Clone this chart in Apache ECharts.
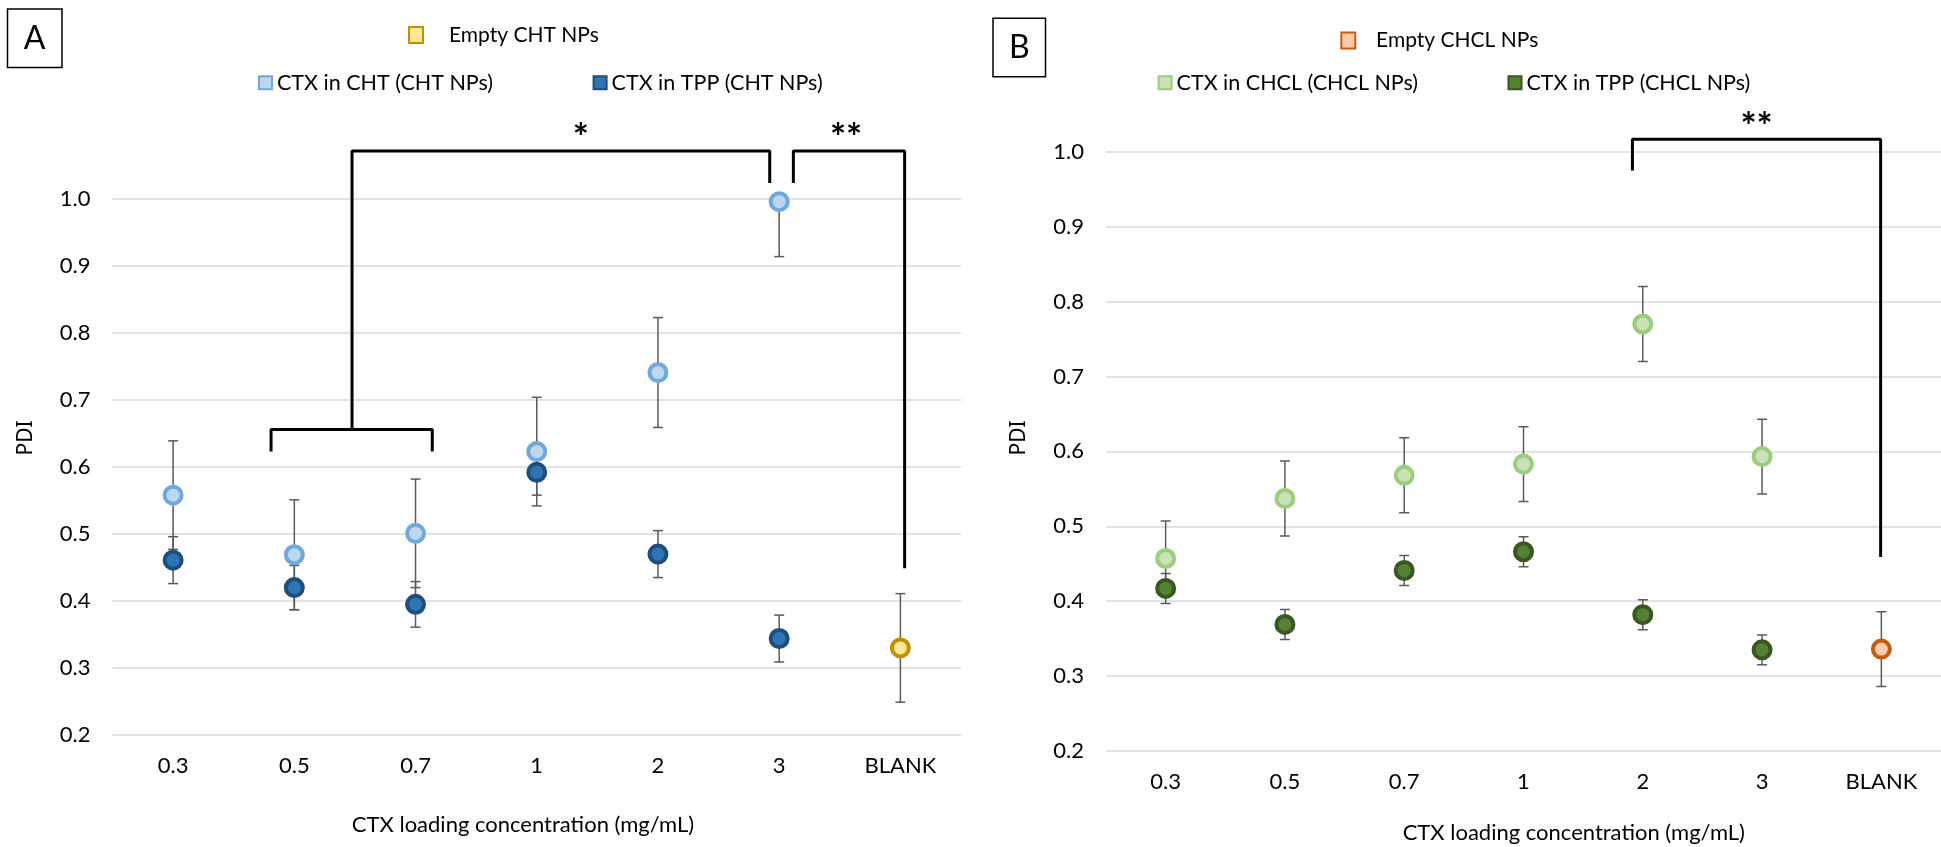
<!DOCTYPE html>
<html>
<head>
<meta charset="utf-8">
<title>PDI vs CTX loading concentration</title>
<script src="https://cdn.jsdelivr.net/npm/echarts@6/dist/echarts.min.js"></script>
<style>
  html, body { margin: 0; padding: 0; background: #ffffff; }
  #chart { width: 1941px; height: 847px; }
</style>
</head>
<body>
<div id="chart"></div>
<script>
// Loading concentrations (mg/mL) and blank formulation
const categories = ['0.3', '0.5', '0.7', '1', '2', '3', 'BLANK'];
const yTicks = { min: 0.2, max: 1.0, step: 0.1 };

// Panel A: CHT nanoparticles (mean PDI and SD)
const ctxInChtA = [0.558, 0.469, 0.501, 0.623, 0.741, 0.996];
const ctxInChtErrA = [0.081, 0.082, 0.081, 0.081, 0.082, 0.082];
const ctxInTppA = [0.461, 0.420, 0.395, 0.592, 0.470, 0.344];
const ctxInTppErrA = [0.035, 0.033, 0.034, 0.034, 0.035, 0.035];
const emptyChtA = 0.330;
const emptyChtErrA = 0.081;

// Panel B: CHCL nanoparticles (mean PDI and SD)
const ctxInChclB = [0.457, 0.537, 0.568, 0.583, 0.770, 0.593];
const ctxInChclErrB = [0.050, 0.050, 0.050, 0.050, 0.050, 0.050];
const ctxInTppB = [0.417, 0.369, 0.441, 0.466, 0.382, 0.335];
const ctxInTppErrB = [0.020, 0.020, 0.020, 0.020, 0.020, 0.020];
const emptyChclB = 0.336;
const emptyChclErrB = 0.050;

// Significance brackets, in (category index, PDI) units
const bracketsA = [
  [[0.808, 0.623], [0.808, 0.656], [2.138, 0.656], [2.138, 0.623]],
  [[1.476, 0.656], [1.476, 1.0716], [4.922, 1.0716], [4.922, 1.024]],
  [[5.117, 1.024], [5.117, 1.0716], [6.035, 1.0716], [6.035, 0.449]]
];
const starsA = [[3.364, 1.090, '*'], [5.552, 1.090, '**']];
const bracketsB = [
  [[3.913, 0.975], [3.913, 1.0166], [5.994, 1.0166], [5.994, 0.459]]
];
const starsB = [[4.954, 1.0326, '**']];

const FONT = 'Lato, "Open Sans", sans-serif';

// pad a per-concentration array out to all categories
function padSeries(values) {
  return categories.map((c, i) => (i < values.length ? values[i] : '-'));
}
function blankOnly(v) {
  return categories.map((c, i) => (i === categories.length - 1 ? v : '-'));
}
function errData(values, errs) {
  return values.map((v, i) => [i, v, errs[i]]);
}

function errorSeries(gridIdx, data) {
  return {
    type: 'custom',
    xAxisIndex: gridIdx * 2,
    yAxisIndex: gridIdx,
    z: 1,
    clip: true,
    silent: true,
    data: data,
    encode: { x: 0, y: 1 },
    renderItem: function (params, api) {
      const x = api.value(0), y = api.value(1), e = api.value(2);
      const hi = api.coord([x, y + e]);
      const lo = api.coord([x, y - e]);
      const cap = 5;
      const st = { stroke: '#5a5a5a', lineWidth: 1.5 };
      return {
        type: 'group',
        children: [
          { type: 'line', shape: { x1: hi[0], y1: hi[1], x2: lo[0], y2: lo[1] }, style: st },
          { type: 'line', shape: { x1: hi[0] - cap, y1: hi[1], x2: hi[0] + cap, y2: hi[1] }, style: st },
          { type: 'line', shape: { x1: lo[0] - cap, y1: lo[1], x2: lo[0] + cap, y2: lo[1] }, style: st }
        ]
      };
    }
  };
}

function pointSeries(gridIdx, name, data, fill, border) {
  return {
    type: 'scatter',
    name: name,
    xAxisIndex: gridIdx * 2,
    yAxisIndex: gridIdx,
    z: 2,
    symbol: 'circle',
    symbolSize: 17,
    data: data,
    itemStyle: { color: fill, borderColor: border, borderWidth: 4, opacity: 1 },
    emphasis: { disabled: true }
  };
}

function bracketSeries(gridIdx, path) {
  return {
    type: 'line',
    xAxisIndex: gridIdx * 2 + 1,
    yAxisIndex: gridIdx,
    z: 3,
    clip: false,
    silent: true,
    symbol: 'none',
    data: path,
    lineStyle: { color: '#000000', width: 3 },
    animation: false
  };
}

function starSeries(gridIdx, stars) {
  return {
    type: 'custom',
    xAxisIndex: gridIdx * 2 + 1,
    yAxisIndex: gridIdx,
    z: 3,
    clip: false,
    silent: true,
    data: stars,
    renderItem: function (params, api) {
      const p = api.coord([api.value(0), api.value(1)]);
      return {
        type: 'text',
        x: p[0],
        y: p[1],
        style: {
          text: stars[params.dataIndex][2],
          font: 'bold 38px ' + FONT,
          fill: '#000000',
          align: 'center',
          verticalAlign: 'middle'
        }
      };
    }
  };
}

function legendItem(name, left, centerY, opts) {
  return {
    data: [name],
    left: left,
    top: centerY - opts.lineHeight / 2,
    padding: 0,
    icon: 'rect',
    itemWidth: opts.iw,
    itemHeight: opts.ih,
    selectedMode: false,
    itemStyle: { borderWidth: 2 },
    formatter: n => opts.lead + n,
    textStyle: {
      fontFamily: FONT,
      fontSize: opts.size,
      color: '#000000',
      lineHeight: opts.lineHeight
    }
  };
}

const gridsPx = [
  { left: 112.5, top: 199, width: 848.5, height: 536 },
  { left: 1106, top: 151.7, width: 850, height: 599.3 }
];

function xAxes(gridIdx) {
  return [
    {
      type: 'category',
      gridIndex: gridIdx,
      data: categories,
      boundaryGap: true,
      axisLine: { show: false },
      axisTick: { show: false },
      splitLine: { show: false },
      axisLabel: { fontFamily: FONT, fontSize: 22, color: '#000000', margin: 20 }
    },
    {
      type: 'value',
      gridIndex: gridIdx,
      min: -0.5,
      max: categories.length - 0.5,
      show: false,
      splitLine: { show: false }
    }
  ];
}

function yAxis(gridIdx) {
  return {
    type: 'value',
    gridIndex: gridIdx,
    min: yTicks.min,
    max: yTicks.max,
    interval: yTicks.step,
    axisLine: { show: false },
    axisTick: { show: false },
    splitLine: { lineStyle: { color: '#d9d9d9', width: 1.5 } },
    axisLabel: {
      fontFamily: FONT, fontSize: 22, color: '#000000', margin: 22,
      formatter: v => v.toFixed(1)
    }
  };
}

// top legend rows carry a wider space between swatch and label
const legendRowA1 = { size: 21, lineHeight: 22, iw: 14, ih: 16, lead: '\u2003\u2009\u2009' };
const legendRowB1 = { size: 21, lineHeight: 22, iw: 14, ih: 16, lead: '\u2003' };
const legendRow2 = { size: 21.5, lineHeight: 22, iw: 13, ih: 13, lead: '' };

const option = {
  backgroundColor: '#ffffff',
  animation: false,
  grid: gridsPx,
  xAxis: [...xAxes(0), ...xAxes(1)],
  yAxis: [yAxis(0), yAxis(1)],
  legend: [
    legendItem('Empty CHT NPs', 408, 35, legendRowA1),
    legendItem('CTX in CHT (CHT NPs)', 258, 82.7, legendRow2),
    legendItem('CTX in TPP (CHT NPs)', 592.6, 82.7, legendRow2),
    legendItem('Empty CHCL NPs', 1340.3, 40.5, legendRowB1),
    legendItem('CTX in CHCL (CHCL NPs)', 1157.6, 82.7, legendRow2),
    legendItem('CTX in TPP (CHCL NPs)', 1507.5, 82.7, legendRow2)
  ],
  series: [
    // Panel A
    errorSeries(0, errData(ctxInChtA, ctxInChtErrA)),
    errorSeries(0, errData(ctxInTppA, ctxInTppErrA)),
    errorSeries(0, [[categories.length - 1, emptyChtA, emptyChtErrA]]),
    pointSeries(0, 'CTX in CHT (CHT NPs)', padSeries(ctxInChtA), '#bdd7ee', '#6fa8dc'),
    pointSeries(0, 'CTX in TPP (CHT NPs)', padSeries(ctxInTppA), '#2e75b6', '#1f4e79'),
    pointSeries(0, 'Empty CHT NPs', blankOnly(emptyChtA), '#ffe699', '#bf9000'),
    ...bracketsA.map(p => bracketSeries(0, p)),
    starSeries(0, starsA),
    // Panel B
    errorSeries(1, errData(ctxInChclB, ctxInChclErrB)),
    errorSeries(1, errData(ctxInTppB, ctxInTppErrB)),
    errorSeries(1, [[categories.length - 1, emptyChclB, emptyChclErrB]]),
    pointSeries(1, 'CTX in CHCL (CHCL NPs)', padSeries(ctxInChclB), '#c9e2b8', '#9ccc7c'),
    pointSeries(1, 'CTX in TPP (CHCL NPs)', padSeries(ctxInTppB), '#548235', '#385723'),
    pointSeries(1, 'Empty CHCL NPs', blankOnly(emptyChclB), '#f8cbad', '#c55a11'),
    ...bracketsB.map(p => bracketSeries(1, p)),
    starSeries(1, starsB)
  ],
  graphic: [
    // panel tags
    { type: 'rect', shape: { x: 7.5, y: 9, width: 54.5, height: 58.5 },
      style: { fill: '#ffffff', stroke: '#000000', lineWidth: 1.5 } },
    { type: 'text', x: 34.7, y: 38.5,
      style: { text: 'A', font: '32px ' + FONT, fill: '#000000', align: 'center', verticalAlign: 'middle' } },
    { type: 'rect', shape: { x: 993, y: 18.3, width: 52.5, height: 58.4 },
      style: { fill: '#ffffff', stroke: '#000000', lineWidth: 1.5 } },
    { type: 'text', x: 1019.3, y: 47.5,
      style: { text: 'B', font: '32px ' + FONT, fill: '#000000', align: 'center', verticalAlign: 'middle' } },
    // axis titles
    { type: 'text', x: 26, y: 438, rotation: Math.PI / 2,
      style: { text: 'PDI', font: '21px "Noto Sans", sans-serif', fill: '#000000', align: 'center', verticalAlign: 'middle' } },
    { type: 'text', x: 1019.5, y: 438, rotation: Math.PI / 2,
      style: { text: 'PDI', font: '21px "Noto Sans", sans-serif', fill: '#000000', align: 'center', verticalAlign: 'middle' } },
    { type: 'text', x: 523, y: 825,
      style: { text: 'CTX loading concentration (mg/mL)', font: '22px ' + FONT, fill: '#000000', align: 'center', verticalAlign: 'middle' } },
    { type: 'text', x: 1573.8, y: 833.3,
      style: { text: 'CTX loading concentration (mg/mL)', font: '22px ' + FONT, fill: '#000000', align: 'center', verticalAlign: 'middle' } }
  ]
};

const chart = echarts.init(document.getElementById('chart'), null, { renderer: 'canvas' });
chart.setOption(option);
</script>
</body>
</html>
